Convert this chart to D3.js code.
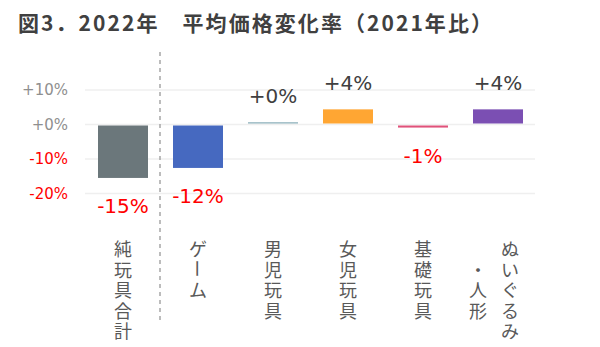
<!DOCTYPE html>
<html>
<head>
<meta charset="utf-8">
<script src="https://cdn.jsdelivr.net/npm/d3@7"></script>
<style>
body{margin:0;background:#fff}
</style>
</head>
<body>
<svg id="chart"></svg>
<script>
// data
let categories=["純玩具合計","ゲーム","男児玩具","女児玩具","基礎玩具","ぬいぐるみ\n　・人形"];
let values=[-15.2,-12.3,0.4,4.1,-0.6,4.1];
let colors=["#6b777b","#4669c0","#9dbcc4","#ffa633","#e0527a","#7b4fb3"];
let ticks=[10,0,-10,-20];
let title="図3．2022年　平均価格変化率（2021年比）";

let W=600,H=347;
let svg=d3.select("#chart").attr("width",W).attr("height",H);

let x=d3.scaleBand().domain(categories).range([85.5,535.5]).paddingInner(1/3).paddingOuter(1/6);
let y=d3.scaleLinear().domain([-20,10]).range([193.5,90]);

let fmt=v=>{let r=Math.round(v);return (r<0?"-":"+")+Math.abs(r)+"%";};

svg.append("text")
.attr("x",18).attr("y",31)
.attr("textLength",474).attr("lengthAdjust","spacing")
.style("font-family","'Noto Sans CJK JP'")
.style("font-weight","bold").style("font-size","21px")
.attr("fill","#404040")
.text(title);

// grid
svg.selectAll("line.grid")
.data(ticks)
.enter()
.append("line")
.attr("x1",85).attr("x2",535)
.attr("y1",d=>y(d)).attr("y2",d=>y(d))
.attr("stroke","#efefef").attr("stroke-width",1.5);

svg.selectAll("text.tick")
.data(ticks)
.enter()
.append("text")
.attr("x",68).attr("y",d=>y(d)).attr("dy","0.36em")
.attr("text-anchor","end")
.style("font-family","'DejaVu Sans'").style("font-size","15px")
.attr("fill",d=>d<0?"#ff0000":"#8f8f8f")
.text(d=>(d<0?"-":"+")+Math.abs(d)+"%");

// separator
svg.append("line")
.attr("x1",160).attr("x2",160).attr("y1",52).attr("y2",321)
.attr("stroke","#a6a6a6").attr("stroke-width",1.5).attr("stroke-dasharray","4,4");

// bars
svg.selectAll("rect")
.data(values)
.enter()
.append("rect")
.attr("x",(d,i)=>x(categories[i]))
.attr("width",x.bandwidth())
.attr("y",d=>d>=0?y(d)-1:y(0)+1)
.attr("height",d=>Math.max(1.5,Math.abs(y(d)-y(0))))
.attr("fill",(d,i)=>colors[i]);

// value labels
svg.selectAll("text.val")
.data(values)
.enter()
.append("text")
.attr("x",(d,i)=>x(categories[i])+x.bandwidth()/2)
.attr("y",d=>d>=0?y(d)-20:y(d)+36)
.attr("text-anchor","middle")
.style("font-family","'DejaVu Sans'").style("font-size","20px")
.attr("fill",d=>d<0?"#ff0000":"#404040")
.text(d=>fmt(d));

// category labels, vertical, one char at a time
categories.forEach((c,i)=>{
  let lines=c.split("\n");
  let cx=x(c)+x.bandwidth()/2;
  lines.forEach((ln,li)=>{
    let lx=cx+((lines.length-1)/2-li)*32-(lines.length>1?4:0);
    Array.from(ln).forEach((ch,k)=>{
      if(ch=="　")return;
      let cy=248+k*20.6;
      svg.append("text")
      .attr("x",lx).attr("y",cy)
      .attr("text-anchor","middle").attr("dominant-baseline","central")
      .attr("transform",ch=="ー"?`rotate(90,${lx},${cy})`:null)
      .style("font-family","'Noto Sans CJK JP'").style("font-size","18px")
      .attr("fill","#595959")
      .text(ch);
    });
  });
});
</script>
</body>
</html>
